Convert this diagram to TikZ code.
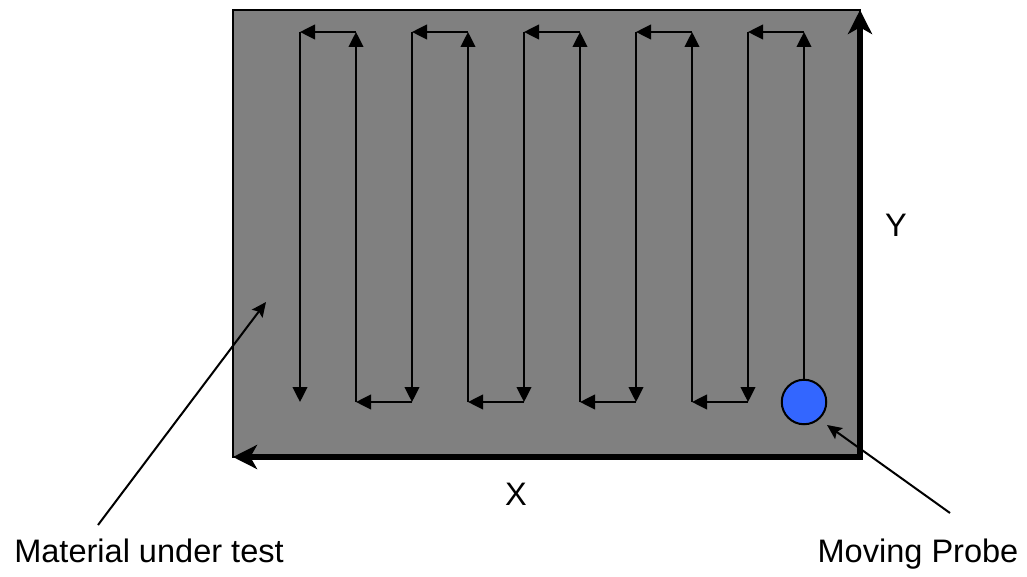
\documentclass[tikz,border=0pt]{standalone}
\usepackage{fontspec}
\setmainfont{Liberation Sans}
\usetikzlibrary{arrows.meta}
\definecolor{plate}{RGB}{128,128,128}
\definecolor{probeblue}{RGB}{51,102,255}
\tikzset{
  seg/.style={line width=1.5pt,-{Triangle[length=11.25pt,width=11pt]}},
  axis/.style={line width=5pt,{Stealth[length=18pt,width=18pt,inset=5pt]}-{Stealth[length=18pt,width=18pt,inset=5pt]},line join=miter},
  ptr/.style={line width=1.5pt,-{Stealth[length=11pt,width=10pt,inset=2pt]}},
  lbl/.style={font=\fontsize{24.4pt}{29pt}\selectfont,inner sep=0pt,anchor=base}
}
\begin{document}
\begin{tikzpicture}[x=0.75pt,y=-0.75pt]
\useasboundingbox (0,0) rectangle (1027,577);
% plate
\filldraw[fill=plate,draw=black,line width=1.5pt] (233,10) rectangle (860,457);
\coordinate (origin) at (860,457);
\coordinate (xend) at (233,457);
\coordinate (yend) at (860,10);
\draw[axis] (xend) -- (origin) -- (yend);
% probe
\node[circle,fill=probeblue,draw=black,line width=1.5pt,minimum size=44.5*0.75pt,inner sep=0pt] (probe) at (804,402) {};
% serpentine corners
\foreach \i in {0,...,9}{
  \coordinate (t\i) at (300+56*\i,32);
  \coordinate (b\i) at (300+56*\i,402);
}
\draw[seg] (probe.north) -- (t9);
\foreach \k in {9,7,5,3,1}{
  \pgfmathtruncatemacro{\m}{\k-1}
  \pgfmathtruncatemacro{\n}{\k-2}
  \draw[seg] (t\k) -- (t\m);
  \draw[seg] (t\m) -- (b\m);
  \ifnum\m>0
    \draw[seg] (b\m) -- (b\n);
    \draw[seg] (b\n) -- (t\n);
  \fi
}
% labels
\node[lbl] (ylab) at (896,237) {Y};
\node[lbl] (xlab) at (516,505) {X};
\node[lbl] (mat) at (149,562) {Material under test};
\node[lbl] (mp) at (918,562) {Moving Probe};
% pointers
\coordinate (matfrom) at (98,525);
\coordinate (matto) at (266,302);
\draw[ptr] (matfrom) -- (matto);
\coordinate (mpfrom) at (950,513);
\coordinate (mpto) at (827,425);
\draw[ptr] (mpfrom) -- (mpto);
\end{tikzpicture}
\end{document}
